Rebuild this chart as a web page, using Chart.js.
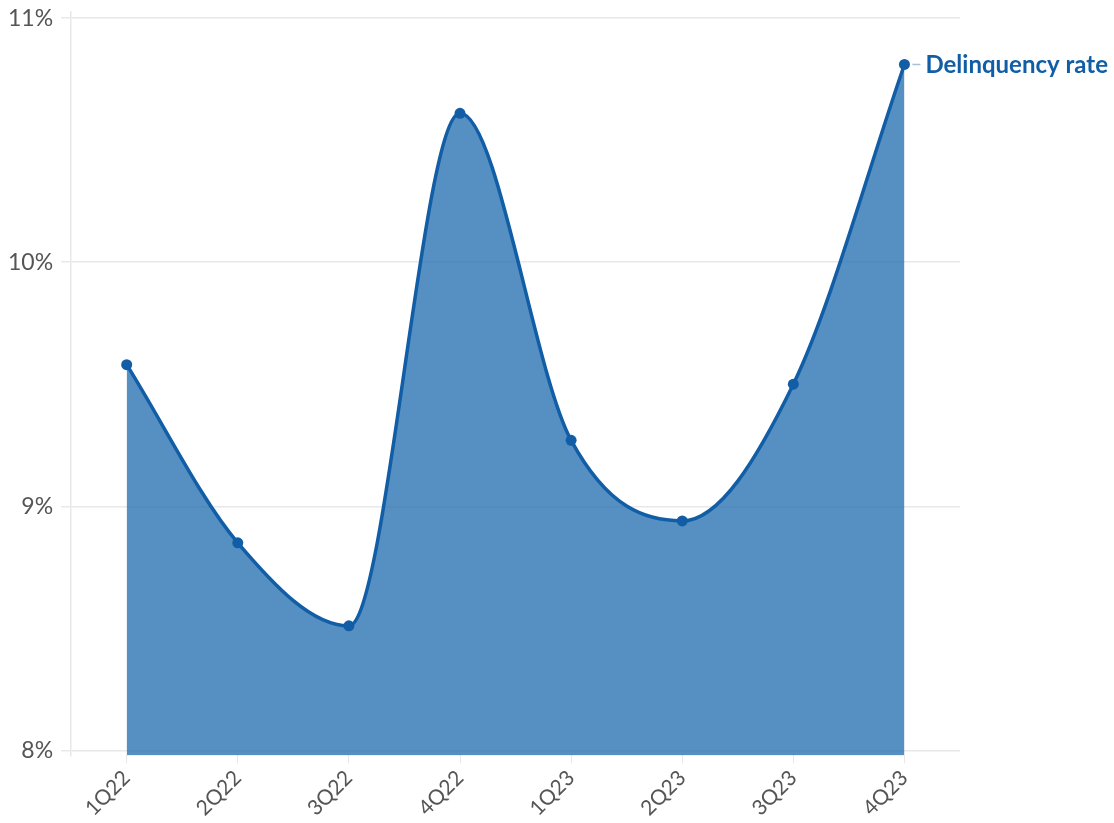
<!DOCTYPE html>
<html>
<head>
<meta charset="utf-8">
<script src="https://cdn.jsdelivr.net/npm/chart.js@4.4.0/dist/chart.umd.min.js"></script>
<style>
  html, body { margin: 0; padding: 0; background: #ffffff; }
  #wrap { width: 1114px; height: 823px; }
</style>
</head>
<body>
<div id="wrap"><canvas id="chart" width="1114" height="823"></canvas></div>
<script>
// Quarterly delinquency rate, in percent
const quarters = ['1Q22', '2Q22', '3Q22', '4Q22', '1Q23', '2Q23', '3Q23', '4Q23'];
const delinquencyRate = [9.58, 8.85, 8.51, 10.61, 9.27, 8.94, 9.50, 10.81];
const yTickValues = [8, 9, 10, 11];
const seriesName = 'Delinquency rate';

const lineBlue = '#125ea6';
const fillBlue = 'rgba(38, 112, 176, 0.78)';
const gridGrey = '#e8e8e8';
const labelGrey = '#555555';

// Series name drawn next to the last point, joined by a short dash
const endLabel = {
  id: 'endLabel',
  afterDatasetsDraw(chart) {
    const meta = chart.getDatasetMeta(0);
    const last = meta.data[meta.data.length - 1];
    if (!last) return;
    const ctx = chart.ctx;
    ctx.save();
    ctx.strokeStyle = '#a9bfd6';
    ctx.lineWidth = 1.5;
    ctx.beginPath();
    ctx.moveTo(last.x + 8, last.y);
    ctx.lineTo(last.x + 16, last.y);
    ctx.stroke();
    ctx.fillStyle = lineBlue;
    ctx.font = 'bold 24px Lato';
    ctx.textBaseline = 'middle';
    ctx.textAlign = 'left';
    ctx.fillText(seriesName, last.x + 21, last.y + 1);
    ctx.restore();
  }
};

new Chart(document.getElementById('chart'), {
  type: 'line',
  data: {
    labels: quarters,
    datasets: [{
      label: seriesName,
      data: delinquencyRate,
      borderColor: lineBlue,
      backgroundColor: fillBlue,
      borderWidth: 3.5,
      fill: 'start',
      cubicInterpolationMode: 'monotone',
      pointRadius: 5.5,
      pointBackgroundColor: lineBlue,
      pointBorderColor: lineBlue,
      pointBorderWidth: 0
    }]
  },
  options: {
    responsive: false,
    animation: false,
    layout: { padding: { top: 0, right: 154, left: 0, bottom: 0 } },
    plugins: {
      legend: { display: false },
      tooltip: { enabled: false }
    },
    scales: {
      x: {
        offset: true,
        grid: {
          display: true,
          drawOnChartArea: false,
          drawTicks: true,
          tickLength: 8,
          color: gridGrey,
          offset: false
        },
        border: { display: false },
        ticks: {
          minRotation: 45,
          maxRotation: 45,
          color: labelGrey,
          padding: 2,
          font: { family: 'Lato', size: 21 }
        }
      },
      y: {
        min: 7.979,
        max: 11.025,
        afterBuildTicks(axis) {
          axis.ticks = yTickValues.map(v => ({ value: v }));
        },
        afterFit(axis) {
          axis.paddingTop = 12;
        },
        grid: {
          color: gridGrey,
          tickLength: 10,
          lineWidth: 1.5
        },
        border: { display: true, color: gridGrey, width: 1.5 },
        ticks: {
          color: labelGrey,
          padding: 8,
          font: { family: 'Lato', size: 23 },
          callback: v => v + '%'
        }
      }
    }
  },
  plugins: [endLabel]
});
</script>
</body>
</html>
